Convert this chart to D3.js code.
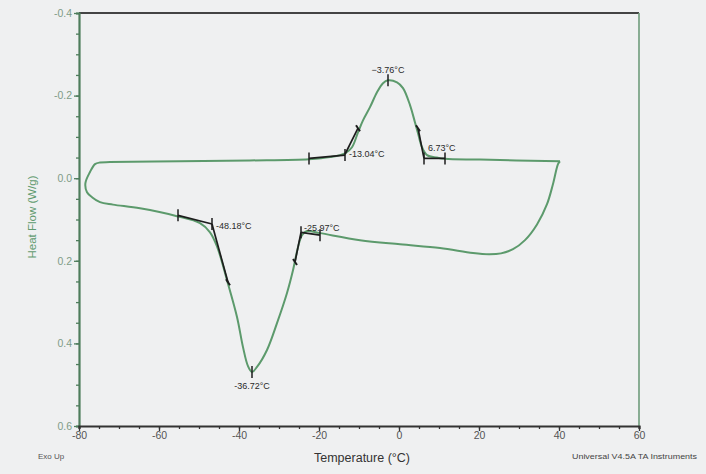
<!DOCTYPE html>
<html><head><meta charset="utf-8">
<script src="https://cdn.jsdelivr.net/npm/d3@7"></script>
<style>
html,body{margin:0;padding:0;background:#eff0f1;}
svg{display:block;font-family:"Liberation Sans",Arial,sans-serif;}
</style></head>
<body>
<svg id="c" width="706" height="474"></svg>
<script>
// DSC curve: temperature (°C) and heat flow (W/g), traced as one closed loop
const temps = [40.25,20.25,11.5,9.5,7,5.75,4.75,4,2.75,1,-0.5,-2.75,-4,-5.5,-7.25,-9,-10.25,-11.75,-13.5,-17.25,-22.5,-37.25,-54.75,-72.25,
  -74.75,-76,-77.25,-78.4,-78,-76.75,-74.75,-71.5,-64.75,-55.5,-49.75,-47.25,-45.5,-43,-40.5,-39,-37.75,-36.75,-35.5,-33,-30.5,-28,-26.5,-25.25,-24.25,-23,-19.75,-9.75,0.25,10.25,18.5,22.5,25.5,28.5,31.5,34.5,37,38.5,39.75,40.25];
const heatFlow = [-0.041,-0.045,-0.047,-0.05,-0.056,-0.075,-0.109,-0.135,-0.177,-0.218,-0.232,-0.237,-0.23,-0.208,-0.172,-0.14,-0.111,-0.075,-0.06,-0.051,-0.046,-0.043,-0.041,-0.039,
  -0.038,-0.034,-0.015,0.012,0.034,0.046,0.058,0.064,0.073,0.092,0.109,0.131,0.165,0.247,0.336,0.409,0.455,0.469,0.457,0.416,0.351,0.278,0.223,0.167,0.138,0.128,0.133,0.15,0.16,0.169,0.181,0.184,0.182,0.172,0.150,0.112,0.063,0.014,-0.034,-0.041];

// Tangent analysis segments [T1, v1, T2, v2]
const tangents = [
  [-22.5,-0.048,-13.5,-0.056],[-13.5,-0.058,-10.25,-0.121],
  [4.75,-0.121,6.25,-0.048],[6.25,-0.048,11.5,-0.048],
  [-55.25,0.090,-46.75,0.111],[-46.75,0.111,-42.75,0.252],
  [-26.0,0.203,-24.5,0.131],[-24.5,0.131,-19.75,0.138]
];
// vertical tick marks [T, v]
const markTicks = [[-22.5,-0.048],[-13.5,-0.056],[6.25,-0.048],[11.5,-0.048],[-2.75,-0.237],
  [-55.25,0.090],[-46.75,0.111],[-19.75,0.138],[-24.5,0.131],[-36.75,0.469]];
// small end ticks on steep tangents [T, v]
const endTicks = [[-10.25,-0.121],[4.75,-0.121],[-42.75,0.252],[-26.0,0.203]];
// annotation labels [text, T, v, dx, dy, anchor]
const labels = [
  ["\u22123.76\u00b0C",-2.75,-0.237,0,-10,"middle"],
  ["-13.04\u00b0C",-13.5,-0.056,4,0,"start"],
  ["6.73\u00b0C",6.25,-0.048,4,-10,"start"],
  ["-48.18\u00b0C",-46.75,0.111,4,3,"start"],
  ["-25.97\u00b0C",-24.5,0.131,3,-4,"start"],
  ["-36.72\u00b0C",-36.75,0.469,0,15,"middle"]
];
const xTicks = [-80,-60,-40,-20,0,20,40,60];
const yTicks = [-0.4,-0.2,0.0,0.2,0.4,0.6];

const svg = d3.select("#c");
const L=79,R=639,T=13,B=426;
const x = d3.scaleLinear().domain([-80,60]).range([L,R]);
const y = d3.scaleLinear().domain([-0.4,0.6]).range([T,B]);

svg.append("rect").attr("width",706).attr("height",474).attr("fill","#eff0f1");

// borders
svg.append("line").attr("x1",L).attr("x2",R).attr("y1",T).attr("y2",T).attr("stroke","#444").attr("stroke-width",2.2);
svg.append("line").attr("x1",R).attr("x2",R).attr("y1",T).attr("y2",B).attr("stroke","#6f9c7c").attr("stroke-width",1.6);

// y axis
const yAxis = d3.axisLeft(y).tickValues(d3.range(-0.4,0.6001,0.05)).tickSize(3).tickFormat("");
const gy = svg.append("g").attr("transform",`translate(${L},0)`).call(yAxis);
gy.selectAll("line").attr("stroke","#4e7d5c").attr("stroke-width",1.3);
gy.select(".domain").attr("stroke","#4e7d5c").attr("stroke-width",2.2);
const gy2 = svg.append("g").attr("transform",`translate(${L},0)`).call(d3.axisLeft(y).tickValues(yTicks).tickSize(5).tickFormat(d=>d3.format(".1f")(d).replace("−","-")));
gy2.select(".domain").remove();
gy2.selectAll("line").attr("stroke","#4e7d5c").attr("stroke-width",1.3);
gy2.selectAll("text").attr("fill","#7f9c87").attr("font-size",10.5).attr("x",-7).attr("font-family","Liberation Sans, Arial, sans-serif");

// x axis
const gx = svg.append("g").attr("transform",`translate(0,${B})`).call(d3.axisBottom(x).tickValues(d3.range(-80,60.001,5)).tickSize(3).tickFormat(""));
gx.selectAll("line").attr("stroke","#333").attr("stroke-width",1.3);
gx.select(".domain").attr("stroke","#333").attr("stroke-width",2.2);
const gx2 = svg.append("g").attr("transform",`translate(0,${B})`).call(d3.axisBottom(x).tickValues(xTicks).tickSize(5).tickFormat(d=>String(d)));
gx2.select(".domain").remove();
gx2.selectAll("line").attr("stroke","#333").attr("stroke-width",1.3);
gx2.selectAll("text").attr("fill","#555").attr("font-size",10.5).attr("y",6).attr("font-family","Liberation Sans, Arial, sans-serif");

// titles
svg.append("text").attr("transform","translate(36,217) rotate(-90)").attr("text-anchor","middle")
  .attr("font-size",11.5).attr("fill","#5f9a6f").text("Heat Flow (W/g)");
svg.append("text").attr("x",362).attr("y",462).attr("text-anchor","middle").attr("font-size",12.5).attr("fill","#333").text("Temperature (\u00b0C)");
svg.append("text").attr("x",38).attr("y",459).attr("font-size",8).attr("fill","#555").text("Exo Up");
svg.append("text").attr("x",572).attr("y",459).attr("font-size",8).attr("fill","#444")
  .attr("textLength",125).attr("lengthAdjust","spacingAndGlyphs").text("Universal V4.5A TA Instruments");

// curve
const pts = temps.map((t,i)=>[t,heatFlow[i]]);
const line = d3.line().x(d=>x(d[0])).y(d=>y(d[1])).curve(d3.curveCatmullRom.alpha(0.5));
svg.append("path").attr("d",line(pts)).attr("fill","none").attr("stroke","#5c9a6c").attr("stroke-width",2).attr("stroke-linejoin","round");

// tangents
svg.selectAll(".tan").data(tangents).enter().append("line")
  .attr("x1",d=>x(d[0])).attr("y1",d=>y(d[1])).attr("x2",d=>x(d[2])).attr("y2",d=>y(d[3]))
  .attr("stroke","#1d1d1d").attr("stroke-width",1.7);
svg.selectAll(".mt").data(markTicks).enter().append("line")
  .attr("x1",d=>x(d[0])).attr("x2",d=>x(d[0])).attr("y1",d=>y(d[1])-6).attr("y2",d=>y(d[1])+6)
  .attr("stroke","#1d1d1d").attr("stroke-width",1.5);
svg.selectAll(".et").data(endTicks).enter().append("line")
  .attr("x1",d=>x(d[0])-2).attr("x2",d=>x(d[0])+2).attr("y1",d=>y(d[1])-3).attr("y2",d=>y(d[1])+3)
  .attr("stroke","#1d1d1d").attr("stroke-width",2);

// labels
svg.selectAll(".lb").data(labels).enter().append("text")
  .attr("x",d=>x(d[1])+d[3]).attr("y",d=>y(d[2])+d[4]).attr("text-anchor",d=>d[5])
  .attr("dominant-baseline","middle").attr("font-size",9).attr("fill","#2a2a2a").text(d=>d[0]);
</script>
</body></html>
